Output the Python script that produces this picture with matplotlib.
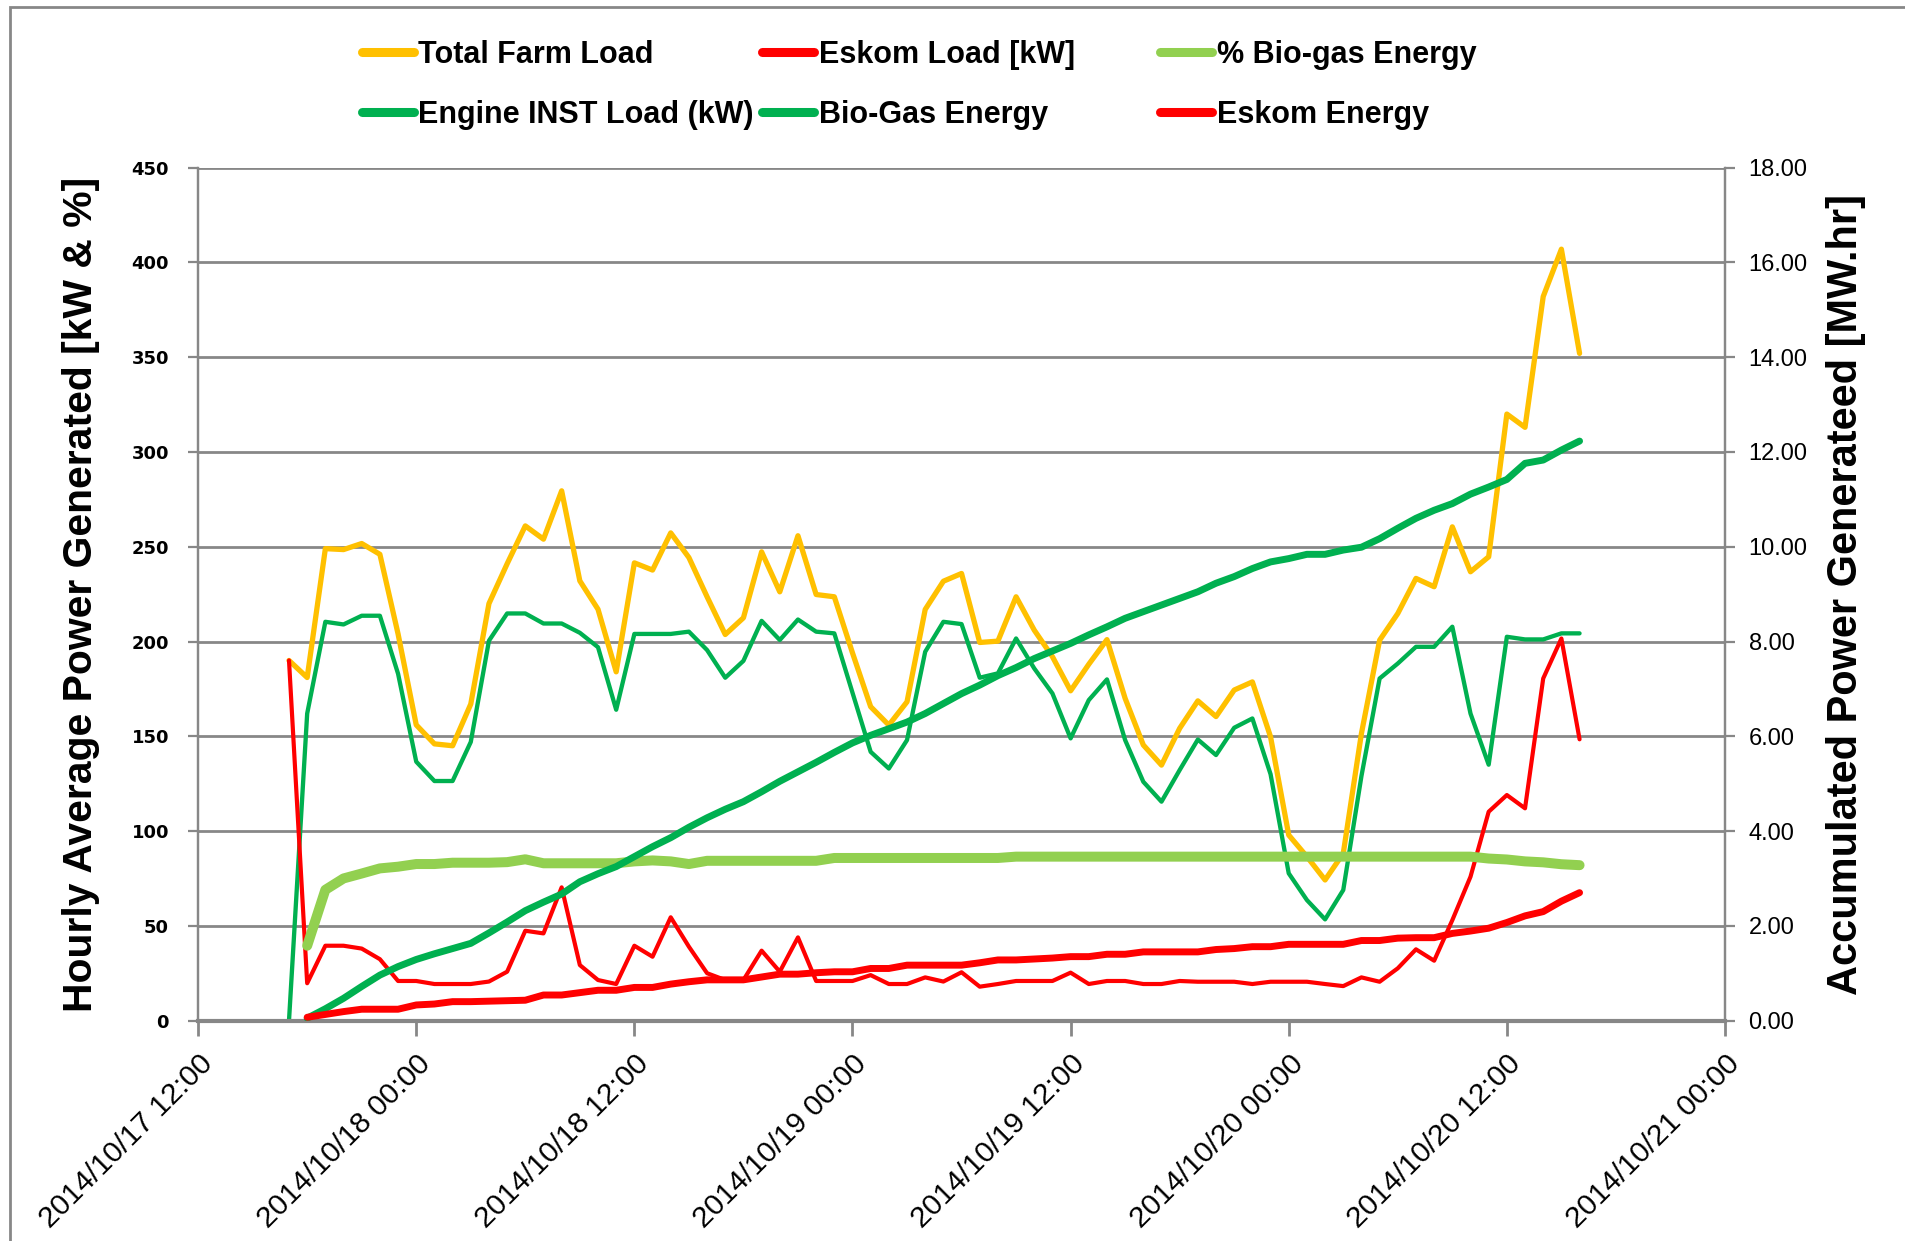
import pandas as pd
import matplotlib
matplotlib.use("Agg")
import matplotlib.pyplot as plt
import matplotlib.dates as mdates
from matplotlib.patches import Rectangle

NARROW = ["Liberation Sans", "DejaVu Sans"]

# hourly values, load series start 2014/10/17 17:00
total_load = [190, 181, 249, 248.5, 251.7, 246, 204, 156, 146, 145,
              167, 220, 241, 261, 254, 279.5, 232, 217, 184, 241.5,
              237.7, 257.3, 244.3, 223.6, 203.7, 212.5, 247.3, 226.2, 255.8, 224.8,
              223.6, 194, 165.6, 155.9, 168.2, 216.9, 231.8, 235.9, 199.5, 200.2,
              223.6, 206, 192, 174, 188, 201, 170, 145.4, 134.8, 154.2,
              168.7, 160.4, 174.4, 178.7, 149.7, 97.9, 86.5, 74.2, 88.2, 151.5,
              200.7, 214.8, 233.3, 228.9, 260.5, 236.8, 244.7, 320, 313, 382,
              407, 352]
engine_load = [0, 162, 210.4, 209, 213.6, 213.6, 183, 136.6, 126.4, 126.4,
               147, 200.4, 214.8, 214.8, 209.5, 209.5, 204.6, 197, 164, 204,
               204, 204, 205.2, 195.5, 180.9, 189.8, 210.9, 200.8, 211.6, 205.2,
               204.3, 173, 141.8, 133, 148, 194.6, 210.4, 209.2, 180.9, 183.2,
               201.6, 185.8, 172.6, 148.9, 169.1, 180, 148, 126, 115.5, 132.2,
               148.3, 140.1, 154.5, 159.4, 130, 77.7, 63.6, 53.4, 68.9, 129,
               180.5, 188.4, 197.2, 197.2, 207.8, 162, 135, 202.5, 201.1, 201.1,
               204.3, 204.3]
eskom_load = [190, 19.7, 39.5, 39.5, 38, 32.4, 20.9, 20.9, 19.3, 19.3,
              19.3, 20.6, 25.8, 47.4, 46, 70.3, 29.3, 21.4, 19.3, 39.5,
              33.7, 54.5, 39, 25, 21.4, 21.4, 36.9, 25.8, 43.9, 20.9,
              20.9, 20.9, 24, 19.3, 19.3, 22.8, 20.6, 25.5, 17.9, 19.3,
              20.9, 20.9, 20.9, 25.3, 19.3, 20.9, 20.9, 19.3, 19.3, 20.9,
              20.5, 20.5, 20.5, 19.3, 20.5, 20.5, 20.5, 19.3, 18.2, 22.8,
              20.5, 27.6, 37.6, 31.6, 53, 75.9, 110.2, 119, 112, 180.5,
              201.6, 148.4]

# energy series start one hour later, 2014/10/17 18:00
pct_biogas = [39.5, 69, 75, 77.6, 80.3, 81.2, 82.6, 82.6, 83.3,
              83.3, 83.3, 83.6, 85.1, 83, 83, 83, 83, 83, 84,
              84.5, 84, 82.6, 84.3, 84.3, 84.3, 84.3, 84.3, 84.3, 84.3,
              85.8, 85.8, 85.8, 85.8, 85.8, 85.8, 85.8, 85.8, 85.8, 85.8,
              86.5, 86.5, 86.5, 86.5, 86.5, 86.5, 86.5, 86.5, 86.5, 86.5,
              86.5, 86.5, 86.5, 86.5, 86.5, 86.5, 86.5, 86.5, 86.5, 86.5,
              86.5, 86.5, 86.5, 86.5, 86.5, 86.5, 85.5, 85, 84, 83.5,
              82.5, 82]
bio_energy = [0.05, 0.25, 0.47, 0.72, 0.96, 1.14, 1.29, 1.41, 1.52,
              1.63, 1.85, 2.08, 2.32, 2.50, 2.67, 2.93, 3.10, 3.25, 3.46,
              3.67, 3.86, 4.08, 4.28, 4.46, 4.62, 4.83, 5.05, 5.25, 5.45,
              5.66, 5.86, 6.02, 6.16, 6.30, 6.48, 6.69, 6.90, 7.08, 7.28,
              7.45, 7.64, 7.80, 7.96, 8.14, 8.31, 8.49, 8.63, 8.77, 8.91,
              9.05, 9.23, 9.37, 9.54, 9.68, 9.75, 9.84, 9.84, 9.93, 9.99,
              10.17, 10.39, 10.60, 10.77, 10.91, 11.11, 11.26, 11.42, 11.76, 11.83,
              12.04, 12.23]
eskom_energy = [0.07, 0.13, 0.19, 0.24, 0.24, 0.24, 0.33, 0.35, 0.40,
                0.40, 0.41, 0.42, 0.43, 0.54, 0.54, 0.59, 0.64, 0.64, 0.70,
                0.70, 0.77, 0.82, 0.86, 0.86, 0.86, 0.92, 0.98, 0.98, 1.01,
                1.03, 1.03, 1.10, 1.10, 1.17, 1.17, 1.17, 1.17, 1.22, 1.28,
                1.28, 1.30, 1.32, 1.35, 1.35, 1.40, 1.40, 1.45, 1.45, 1.45,
                1.45, 1.50, 1.52, 1.56, 1.56, 1.61, 1.61, 1.61, 1.61, 1.69,
                1.69, 1.74, 1.75, 1.75, 1.84, 1.89, 1.95, 2.07, 2.21, 2.30,
                2.52, 2.70]

t_load = pd.date_range("2014-10-17 17:00", periods=len(total_load), freq="h")
t_energy = pd.date_range("2014-10-17 18:00", periods=len(bio_energy), freq="h")

GRID = "#878787"
YELLOW = "#FFC000"
RED = "#FF0000"
LGREEN = "#92D050"
GREEN = "#00B050"

fig = plt.figure(figsize=(19.05, 12.41), dpi=100)
ax = fig.add_axes([0.104, 0.1776, 0.8015, 0.6873])
ax2 = ax.twinx()

# outer chart frame
fig.patches.append(Rectangle((0.005, -0.02), 1.1, 1.014, transform=fig.transFigure,
                             fill=False, edgecolor=GRID, lw=2))

kw = dict(solid_joinstyle="round", solid_capstyle="round")
l1, = ax.plot(t_load, total_load, color=YELLOW, lw=3.8, label="Total Farm Load", **kw)
l4, = ax.plot(t_load, engine_load, color=GREEN, lw=3.1, label="Engine INST Load (kW)", **kw)
l2, = ax.plot(t_load, eskom_load, color=RED, lw=3.0, label="Eskom Load [kW]", **kw)
l3, = ax.plot(t_energy, pct_biogas, color=LGREEN, lw=7.2, label="% Bio-gas Energy", **kw)
l5, = ax2.plot(t_energy, bio_energy, color=GREEN, lw=5.0, label="Bio-Gas Energy", **kw)
l6, = ax2.plot(t_energy, eskom_energy, color=RED, lw=5.0, label="Eskom Energy", **kw)

ax.set_xlim(pd.Timestamp("2014-10-17 12:00"), pd.Timestamp("2014-10-21 00:00"))
ax.set_ylim(0, 450)
ax.set_yticks(range(0, 451, 50))
ax2.set_ylim(0, 18)
ax2.set_yticks(range(0, 19, 2))
ax2.yaxis.set_major_formatter(plt.FuncFormatter(lambda v, p: f"{v:.2f}"))

ax.xaxis.set_major_locator(mdates.HourLocator(byhour=[0, 12]))
ax.xaxis.set_major_formatter(mdates.DateFormatter("%Y/%m/%d %H:%M"))

ax.grid(axis="y", color=GRID, lw=2)
ax.set_axisbelow(True)
for a in (ax, ax2):
    a.spines["top"].set_visible(False)
    for s in ("left", "right", "bottom"):
        a.spines[s].set_color(GRID)
        a.spines[s].set_linewidth(1.6)
ax.spines["bottom"].set_linewidth(3)
ax2.spines["bottom"].set_visible(False)

ax.tick_params(axis="x", direction="out", length=11, width=2, color=GRID, pad=10)
ax.tick_params(axis="y", direction="out", length=7, width=1.6, color=GRID, pad=14)
ax2.tick_params(axis="y", direction="out", length=7, width=1.6, color=GRID, pad=10)

for lab in ax.get_xticklabels():
    lab.set_rotation(45)
    lab.set_ha("right")
    lab.set_rotation_mode("anchor")
    lab.set_family(NARROW)
    lab.set_fontsize(21.5)
for lab in ax.get_yticklabels():
    lab.set_family("DejaVu Sans")
    lab.set_fontweight("bold")
    lab.set_fontsize(13)
for lab in ax2.get_yticklabels():
    lab.set_family(NARROW)
    lab.set_fontsize(17)

ax.set_ylabel("Hourly Average Power Generated [kW & %]", family=NARROW,
              fontsize=29.4, fontweight="bold", labelpad=23)
ax2.set_ylabel("Accumulated Power Generateed [MW.hr]", family=NARROW,
               fontsize=29.9, fontweight="bold", labelpad=13)

# legend: three columns placed like the reference, two rows each
columns = [(l1, l4), (l2, l5), (l3, l6)]
col_x = [0.190, 0.400, 0.609]
for hs, x in zip(columns, col_x):
    leg = fig.legend(hs, [h.get_label() for h in hs], loc="center left",
                     bbox_to_anchor=(x, 0.9316), frameon=False,
                     prop=dict(family=NARROW, weight="bold", size=22),
                     handlelength=1.7, handletextpad=0.15, labelspacing=1.0,
                     borderpad=0, borderaxespad=0)
    for h in leg.get_lines():
        h.set_linewidth(6.5)

fig.savefig("out.png", dpi=100)
